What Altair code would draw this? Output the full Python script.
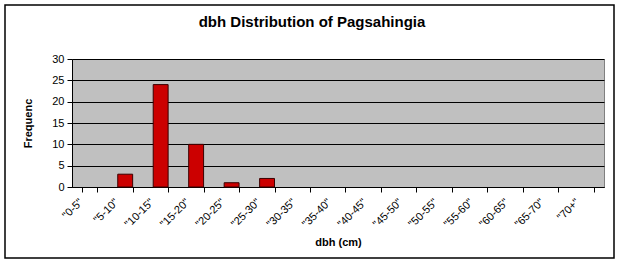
import altair as alt
import pandas as pd

categories = ['"0-5"', '"5-10"', '"10-15"', '"15-20"', '"20-25"', '"25-30"', '"30-35"',
              '"35-40"', '"40-45"', '"45-50"', '"50-55"', '"55-60"', '"60-65"', '"65-70"', '"70+"']
frequency = [0, 3, 24, 10, 1, 2, 0, 0, 0, 0, 0, 0, 0, 0, 0]
y_ticks = [0, 5, 10, 15, 20, 25, 30]
title_text = "dbh Distribution of Pagsahingia"

df = pd.DataFrame({"dbh": categories, "freq": frequency})

FONT = "Liberation Sans"
W, H = 532, 128
L, T = 72, 59

bars = alt.Chart(df).transform_filter("datum.freq > 0").mark_bar(
    color="#cc0000", stroke="#3a0000", strokeWidth=1
).encode(
    x=alt.X("dbh:N", sort=categories,
            scale=alt.Scale(domain=categories, paddingInner=0.58, paddingOuter=0.29),
            axis=alt.Axis(title="dbh (cm)", labelAngle=-45, labelAlign="right",
                          labelBaseline="top", labelOffset=-13, labelPadding=4,
                          tickBand="extent", tickSize=5, tickColor="black",
                          domainColor="black", labelColor="black", labelFontSize=11,
                          labelFont=FONT, titleFont=FONT, titleFontSize=11,
                          titleFontWeight="bold", titleColor="black",
                          titleY=55, titleBaseline="middle")),
    y=alt.Y("freq:Q", scale=alt.Scale(domain=[0, 30], nice=False),
            axis=alt.Axis(title="Frequenc", values=y_ticks, grid=True, gridColor="black",
                          gridOpacity=1, gridWidth=1, tickSize=5, tickColor="black",
                          domainColor="black", labelColor="black", labelFontSize=11,
                          labelFont=FONT, labelPadding=3, titleFont=FONT, titleFontSize=11,
                          titleFontWeight="bold", titleColor="black",
                          titleX=-44, titleY=64, titleBaseline="middle", titleAngle=-90)),
)

one = alt.Data(values=[{"a": 1}])

frame = alt.Chart(one).mark_rect(
    filled=False, stroke="black", strokeWidth=1.5
).encode(
    x=alt.value(5 - L), x2=alt.value(614 - L),
    y=alt.value(5 - T), y2=alt.value(258 - T),
)

title = alt.Chart(one).mark_text(
    font=FONT, fontSize=15, fontWeight="bold", color="black",
    align="center", baseline="alphabetic"
).encode(
    text=alt.value(title_text),
    x=alt.value(312 - L), y=alt.value(27 - T),
)

chart = alt.layer(bars, frame, title).properties(
    width=W, height=H,
    autosize=alt.AutoSizeParams(type="none"),
    padding={"left": L, "top": T, "right": 625 - L - W, "bottom": 267 - T - H},
    background="white",
).configure_view(fill="#c0c0c0", stroke="#808080", strokeWidth=1)

chart.save("out.html", embed_options={"renderer": "svg", "actions": False})
